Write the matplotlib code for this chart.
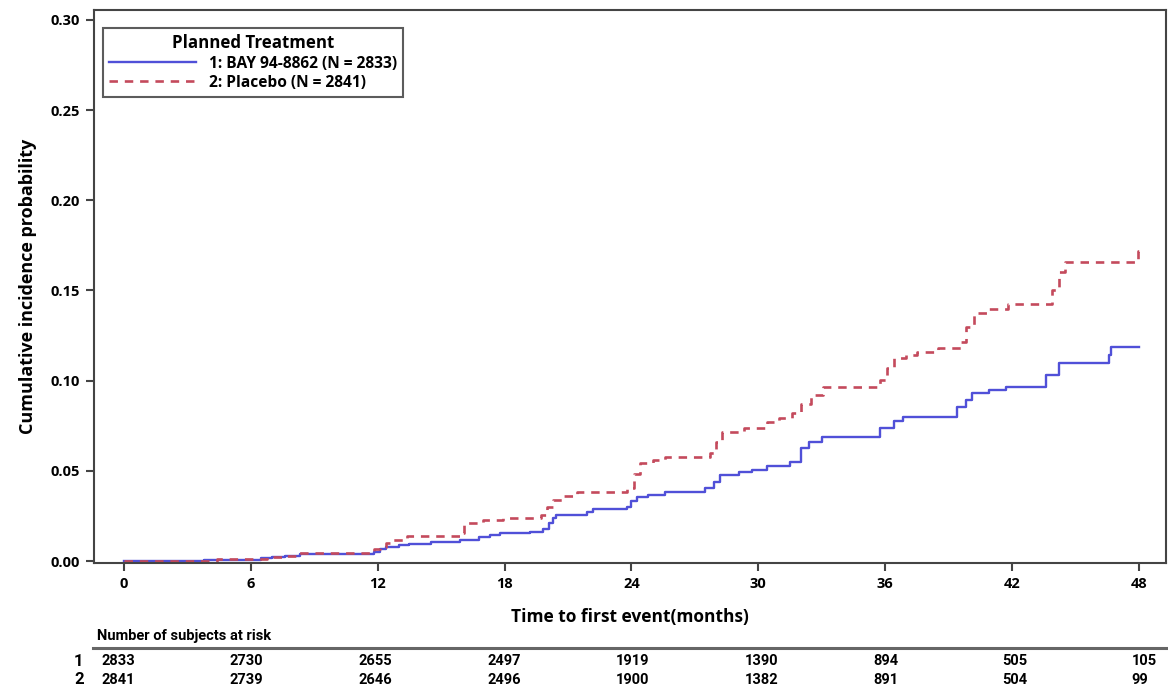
import matplotlib
matplotlib.use("Agg")
import matplotlib.pyplot as plt
from matplotlib.lines import Line2D

# Step curve data (months, cumulative incidence).
bay_time = [0, 3.8, 6.5, 7.0, 7.6, 8.3, 11.8, 12.1, 12.4, 13.0, 13.5, 14.5, 15.2,
            15.9, 16.8, 17.3, 17.8, 19.2, 19.8, 20.1, 20.3, 20.45, 21.9, 22.2, 23.8,
            24.0, 24.25, 24.8, 25.6, 27.5, 27.9, 28.2, 29.1, 29.7, 30.4, 31.5, 32.0,
            32.4, 33.0, 35.75, 36.4, 36.85, 39.4, 39.8, 40.1, 40.9, 41.7, 43.6,
            44.2, 46.6, 46.7, 48.0]
bay_cif = [0, 0.0005, 0.0015, 0.0024, 0.003, 0.0037, 0.005, 0.0065, 0.008, 0.0088,
           0.0094, 0.0103, 0.0108, 0.0116, 0.0135, 0.0145, 0.0154, 0.0163, 0.018,
           0.021, 0.024, 0.0255, 0.0273, 0.0287, 0.0301, 0.033, 0.0355, 0.0366,
           0.0384, 0.0403, 0.044, 0.0477, 0.0495, 0.0505, 0.0527, 0.055, 0.0627,
           0.066, 0.069, 0.0736, 0.0776, 0.080, 0.0856, 0.089, 0.093, 0.0948,
           0.0967, 0.103, 0.110, 0.114, 0.1188, 0.1188]

placebo_time = [0, 4.4, 6.75, 7.5, 8.2, 11.8, 12.1, 12.4, 12.7, 13.4, 15.9, 16.1,
                17.0, 17.9, 19.7, 20.0, 20.3, 20.8, 21.4, 23.8, 24.1, 24.4, 25.0,
                25.6, 27.7, 28.0, 28.3, 29.3, 30.4, 31.0, 31.6, 32.0, 32.5, 33.05,
                35.75, 36.1, 36.4, 37.0, 37.5, 38.5, 39.6, 39.8, 40.2, 40.8, 41.8,
                43.9, 44.2, 44.5, 47.95, 48.0]
placebo_cif = [0, 0.0009, 0.002, 0.003, 0.0043, 0.0065, 0.0079, 0.0098, 0.0116,
               0.0139, 0.0154, 0.0212, 0.0225, 0.0237, 0.0255, 0.030, 0.0338,
               0.0362, 0.0384, 0.0403, 0.048, 0.0542, 0.0562, 0.0578, 0.0597, 0.066,
               0.0717, 0.0736, 0.0772, 0.0791, 0.082, 0.087, 0.092, 0.0967, 0.1004,
               0.107, 0.1126, 0.114, 0.116, 0.118, 0.1216, 0.130, 0.1375, 0.140,
               0.1425, 0.150, 0.160, 0.1656, 0.172, 0.172]

x_ticks = [0, 6, 12, 18, 24, 30, 36, 42, 48]
y_ticks = [0.00, 0.05, 0.10, 0.15, 0.20, 0.25, 0.30]

risk_bay = [2833, 2730, 2655, 2497, 1919, 1390, 894, 505, 105]
risk_placebo = [2841, 2739, 2646, 2496, 1900, 1382, 891, 504, 99]

W, H = 1168, 690
main_font = ["Open Sans", "DejaVu Sans"]
table_font = ["Roboto", "DejaVu Sans"]
edge = "#444444"

fig = plt.figure(figsize=(W / 100, H / 100), dpi=100)
ax = fig.add_axes([94 / W, 1 - 563 / H, (1166 - 94) / W, (563 - 10) / H])

ax.plot(bay_time, bay_cif, drawstyle="steps-post", color="#5050d8",
        linewidth=1.7, label="1: BAY 94-8862 (N = 2833)")
ax.plot(placebo_time, placebo_cif, drawstyle="steps-post", color="#c44a5c",
        linewidth=1.9, linestyle=(0, (3.2, 2.6)), label="2: Placebo (N = 2841)")

ax.set_xlim(-1.42, 49.28)
ax.set_ylim(-0.0011, 0.3055)
ax.set_xticks(x_ticks)
ax.set_yticks(y_ticks)
ax.set_yticklabels([f"{v:.2f}" for v in y_ticks])

for spine in ax.spines.values():
    spine.set_color(edge)
    spine.set_linewidth(1.5)
ax.tick_params(direction="out", length=6, width=1.5, color=edge, pad=4)
for lab in ax.get_xticklabels() + ax.get_yticklabels():
    lab.set_fontfamily(main_font)
    lab.set_fontweight("bold")
    lab.set_fontsize(10.5)

ax.set_xlabel("Time to first event(months)", fontfamily=main_font,
              fontweight="bold", fontsize=12.5, labelpad=12)
ax.set_ylabel("Cumulative incidence probability", fontfamily=main_font,
              fontweight="bold", fontsize=13, labelpad=10)

leg = ax.legend(loc="upper left", bbox_to_anchor=(0.0084, 0.967),
                borderaxespad=0, title="Planned Treatment", fancybox=False,
                handlelength=5.6, handletextpad=0.8, labelspacing=0.2,
                borderpad=0.4, prop={"family": main_font, "weight": "bold",
                                     "size": 11.2},
                title_fontproperties={"family": main_font, "weight": "bold",
                                      "size": 12.2})
leg.get_frame().set_edgecolor("#333333")
leg.get_frame().set_linewidth(1.5)

# At-risk table under the plot.
fig.text(97 / W, 1 - 636 / H, "Number of subjects at risk", fontfamily=table_font,
         fontweight="bold", fontsize=10.5, va="center", ha="left")
fig.add_artist(Line2D([93 / W, 1.0], [1 - 648 / H, 1 - 648 / H],
                      color="#666666", linewidth=2.2))
for row, (label, counts) in enumerate([("1", risk_bay), ("2", risk_placebo)]):
    y = 1 - (661 + row * 18.5) / H
    fig.text(74 / W, y, label, fontfamily=table_font, fontweight="bold",
             fontsize=12, va="center", ha="left")
    for i, n in enumerate(counts):
        fig.text((101 + 128.8 * i) / W, y, str(n), fontfamily=table_font,
                 fontweight="bold", fontsize=10.5, va="center", ha="left")

fig.savefig("out.png", dpi=100)
